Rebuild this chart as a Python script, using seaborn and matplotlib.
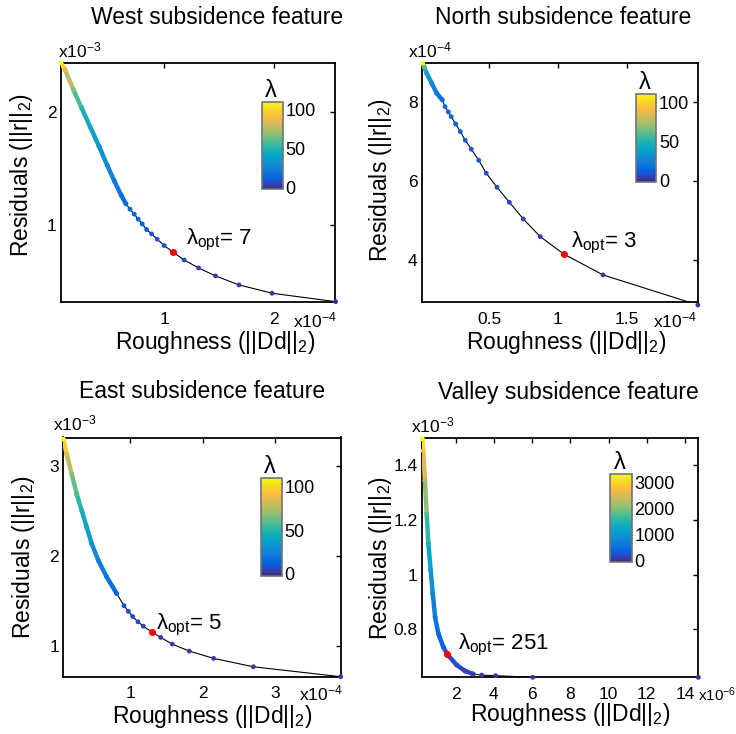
import numpy as np
import pandas as pd
import matplotlib
matplotlib.use("Agg")
import matplotlib.pyplot as plt
import seaborn as sns
from matplotlib.colors import LinearSegmentedColormap, Normalize
from matplotlib.collections import LineCollection
from matplotlib.cm import ScalarMappable

# ---------------- data ----------------
# roughness in units of the x-axis exponent, residuals in units of the y-axis exponent
west_lam = [1, 2, 3, 4, 5, 6, 7, 8, 9, 10, 11, 12, 13, 14, 15, 16, 18, 22, 27, 33, 40, 52, 65, 88, 110]
west_rough = [2.566, 1.985, 1.684, 1.469, 1.314, 1.182, 1.082, 1.000, 0.936, 0.885, 0.840, 0.799, 0.763,
              0.727, 0.688, 0.651, 0.610, 0.545, 0.480, 0.405, 0.323, 0.247, 0.171, 0.095, 0.058]
west_resid = [0.317, 0.392, 0.466, 0.546, 0.617, 0.688, 0.757, 0.816, 0.873, 0.920, 0.958, 1.009, 1.051,
              1.095, 1.140, 1.187, 1.260, 1.390, 1.530, 1.700, 1.875, 2.039, 2.202, 2.380, 2.440]
west_opt = 7

north_lam = [1, 2, 3, 4, 5, 6, 7, 8, 9, 10, 11, 12, 13, 14, 15, 16, 17, 20, 28, 40, 60, 109]
north_rough = [2.018, 1.328, 1.044, 0.871, 0.747, 0.646, 0.556, 0.478, 0.423, 0.369, 0.325, 0.289, 0.255,
               0.223, 0.202, 0.178, 0.158, 0.117, 0.081, 0.044, 0.025, 0.015]
north_resid = [2.853, 3.613, 4.137, 4.582, 5.030, 5.453, 5.833, 6.187, 6.516, 6.795, 7.023, 7.241, 7.435,
               7.620, 7.739, 7.873, 8.043, 8.213, 8.466, 8.719, 8.886, 8.972]
north_opt = 3

east_lam = [2, 2.5, 3, 3.5, 4, 4.5, 5, 5.5, 6, 6.5, 7, 7.5, 14, 20, 25, 32, 40, 48, 57, 68, 85, 109]
east_rough = [3.906, 2.701, 2.154, 1.818, 1.583, 1.423, 1.299, 1.184, 1.110, 1.037, 0.977, 0.917, 0.817,
              0.679, 0.563, 0.472, 0.403, 0.334, 0.265, 0.196, 0.127, 0.080]
east_resid = [0.661, 0.771, 0.864, 0.945, 1.022, 1.096, 1.158, 1.221, 1.269, 1.328, 1.386, 1.449, 1.582,
              1.766, 1.950, 2.135, 2.318, 2.503, 2.687, 2.908, 3.129, 3.295]
east_opt = 5

valley_lam = [1, 25, 60, 90, 120, 160, 200, 251, 330, 450, 600, 800, 1050, 1400, 1800, 2300, 2800, 3290]
valley_rough = [14.70, 6.03, 4.09, 3.36, 2.92, 2.49, 2.05, 1.56, 1.35, 1.09, 0.92, 0.80, 0.69, 0.57, 0.48,
                0.39, 0.30, 0.25]
valley_resid = [0.625, 0.625, 0.631, 0.633, 0.637, 0.648, 0.670, 0.709, 0.736, 0.785, 0.846, 0.931, 1.016,
                1.114, 1.223, 1.345, 1.454, 1.497]
valley_opt = 251

titles = ["West subsidence feature", "North subsidence feature",
          "East subsidence feature", "Valley subsidence feature"]
x_exponents = ["-4", "-4", "-4", "-6"]
y_exponents = ["-3", "-4", "-3", "-3"]
x_ticks = [[1, 2], [0.5, 1, 1.5], [1, 2, 3], [2, 4, 6, 8, 10, 12, 14]]
y_ticks = [[1, 2], [4, 6, 8], [1, 2, 3], [0.8, 1, 1.2, 1.4]]
cbar_ticks = [[0, 50, 100], [0, 50, 100], [0, 50, 100], [0, 1000, 2000, 3000]]

# ---------------- style ----------------
sns.set_style("white")
plt.rcParams["font.family"] = ["Liberation Sans", "DejaVu Sans"]
plt.rcParams["text.color"] = "black"
plt.rcParams["axes.labelcolor"] = "black"
plt.rcParams["mathtext.fontset"] = "custom"
plt.rcParams["mathtext.rm"] = "Liberation Sans"
plt.rcParams["mathtext.it"] = "Liberation Sans:italic"
plt.rcParams["mathtext.bf"] = "Liberation Sans:bold"

# MATLAB parula approximation (index in a 64-entry table, colour)
_par = [(1, (0.2081, 0.1663, 0.5292)), (4, (0.2081, 0.2386, 0.6771)), (7, (0.1253, 0.3242, 0.8303)),
        (9, (0.0117, 0.3875, 0.8820)), (13, (0.0498, 0.4586, 0.8641)), (16, (0.0779, 0.5040, 0.8384)),
        (20, (0.0488, 0.5772, 0.8228)), (25, (0.0228, 0.6535, 0.7768)), (30, (0.1133, 0.7015, 0.6859)),
        (35, (0.3022, 0.7376, 0.5712)), (40, (0.5300, 0.7491, 0.4661)), (45, (0.7184, 0.7411, 0.3905)),
        (50, (0.8824, 0.7274, 0.3217)), (54, (0.9938, 0.7455, 0.2403)), (58, (0.9789, 0.8271, 0.1633)),
        (62, (0.9598, 0.9218, 0.0948)), (64, (0.9763, 0.9831, 0.0538))]
parula = LinearSegmentedColormap.from_list("parula", [((i - 1) / 63, c) for i, c in _par])

W, H = 736, 734
fig = plt.figure(figsize=(W / 100, H / 100), dpi=100)


def rect(l, t, r, b):
    return [l / W, 1 - b / H, (r - l) / W, (b - t) / H]


layout = [
    dict(ax=(61, 63, 335, 302), xlim=(0.058, 2.56), ylim=(0.314, 2.44), cax=(261.7, 101.7, 282.7, 189.3),
         norm=(-2, 110), band_from=16, title=(217, 18), xlab=(215, 342), ylab=(22, 175),
         yexp=(58, 50), xexp=(337, 320, "right", 12.5), ann=(13, 12)),
    dict(ax=(421.7, 63.3, 697.7, 302.3), xlim=(0.008, 2.017), ylim=(2.92, 8.97), cax=(635.7, 94.3, 656.3, 181.7),
         norm=(-2, 110), band_from=17, title=(563, 18), xlab=(566, 342), ylab=(380, 180),
         yexp=(408, 50), xexp=(697, 320, "right", 12.5), ann=(7, 11)),
    dict(ax=(63.3, 437.5, 340.7, 676.7), xlim=(0.08, 3.906), ylim=(0.661, 3.313), cax=(261, 478.3, 281.7, 575.7),
         norm=(-2, 110), band_from=14, title=(202.5, 392), xlab=(212, 716), ylab=(24, 557),
         yexp=(53, 423), xexp=(343, 693, "right", 12.5), ann=(4, 7)),
    dict(ax=(421.7, 438, 698.3, 677.3), xlim=(0.22, 14.7), ylim=(0.625, 1.5), cax=(610.3, 474.3, 631.7, 562.3),
         norm=(-60, 3300), band_from=120, title=(568.5, 393), xlab=(570, 715), ylab=(380, 558),
         yexp=(411, 425), xexp=(698, 695, "left", 11), ann=(11, 9)),
]

datasets = [(west_lam, west_rough, west_resid, west_opt),
            (north_lam, north_rough, north_resid, north_opt),
            (east_lam, east_rough, east_resid, east_opt),
            (valley_lam, valley_rough, valley_resid, valley_opt)]

for i, (lam, rough, resid, opt) in enumerate(datasets):
    L = layout[i]
    ax = fig.add_axes(rect(*L["ax"]))
    norm = Normalize(*L["norm"])
    df = pd.DataFrame({"x": rough, "y": resid, "lam": lam})

    sns.lineplot(data=df, x="x", y="y", sort=False, estimator=None, color="black", lw=0.8, ax=ax, zorder=2)

    band = df[df["lam"] >= L["band_from"]].sort_values("lam")
    pts = band[["x", "y"]].to_numpy()
    segs = np.stack([pts[:-1], pts[1:]], axis=1)
    lc = LineCollection(segs, cmap=parula, norm=norm, linewidths=3.2, capstyle="round", zorder=3)
    lc.set_array(0.5 * (band["lam"].to_numpy()[:-1] + band["lam"].to_numpy()[1:]))
    ax.add_collection(lc)

    sns.scatterplot(data=df[df["lam"] != opt], x="x", y="y", hue="lam", palette=parula, hue_norm=norm,
                    s=12, linewidth=0, legend=False, ax=ax, zorder=4, clip_on=False)
    o = df[df["lam"] == opt]
    sns.scatterplot(data=o, x="x", y="y", color="red", s=26, linewidth=0, legend=False, ax=ax, zorder=5)

    ax.set_xlim(*L["xlim"])
    ax.set_ylim(*L["ylim"])
    ax.set_xticks(x_ticks[i])
    ax.set_yticks(y_ticks[i])
    ax.set_xticklabels([f"{t:g}" for t in x_ticks[i]])
    ax.set_yticklabels([f"{t:g}" for t in y_ticks[i]])
    ax.tick_params(direction="in", length=3.5, width=1, top=True, right=True, labelsize=12.5,
                   colors="black")
    ax.tick_params(axis="x", pad=7)
    ax.tick_params(axis="y", pad=3)
    ax.set_xlabel("")
    ax.set_ylabel("")
    for sp in ax.spines.values():
        sp.set_color("black")
        sp.set_linewidth(1.3)

    ax.annotate(f"λ$_{{\\mathrm{{opt}}}}$= {opt}", xy=(o["x"].iloc[0], o["y"].iloc[0]),
                xytext=L["ann"], textcoords="offset pixels", ha="left", va="center", fontsize=16)

    tx, ty = L["title"]
    fig.text(tx / W, 1 - ty / H, titles[i], ha="center", va="center", fontsize=16.5)
    lx, ly = L["xlab"]
    fig.text(lx / W, 1 - ly / H, "Roughness (||Dd||$_2$)", ha="center", va="center", fontsize=16.5)
    yx, yy = L["ylab"]
    fig.text(yx / W, 1 - yy / H, "Residuals (||r||$_2$)", ha="center", va="center", fontsize=16.5,
             rotation=90)
    ex, ey = L["yexp"]
    fig.text(ex / W, 1 - ey / H, f"x10$^{{{y_exponents[i]}}}$", ha="left", va="center", fontsize=12.5)
    ex, ey, ha, fs = L["xexp"]
    fig.text(ex / W, 1 - ey / H, f"x10$^{{{x_exponents[i]}}}$", ha=ha, va="center", fontsize=fs)

    cax = fig.add_axes(rect(*L["cax"]))
    cb = fig.colorbar(ScalarMappable(norm=norm, cmap=parula), cax=cax, ticks=cbar_ticks[i])
    cb.outline.set_edgecolor("0.45")
    cb.outline.set_linewidth(1.2)
    cax.tick_params(labelsize=13, direction="in", length=3, width=0.8, pad=2, colors="black")
    cl, ct, cr, cbm = L["cax"]
    fig.text((cl + 9) / W, 1 - (ct - 11) / H, "λ", ha="center", va="center", fontsize=17)

fig.savefig("out.png", dpi=100)
